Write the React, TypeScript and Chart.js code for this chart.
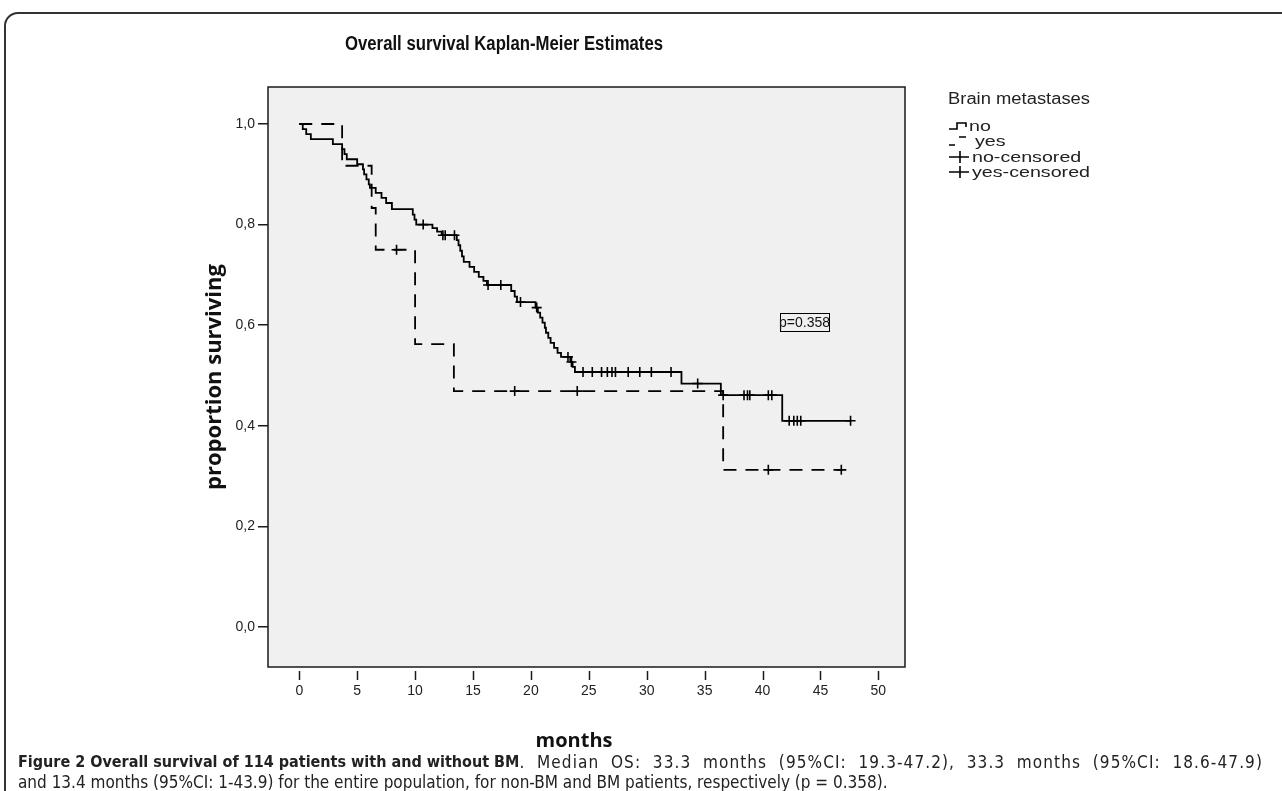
import React, { useEffect, useRef } from 'react';
import { Chart, registerables } from 'chart.js';

Chart.register(...registerables);

// ---------- data ----------
const chartTitle = 'Overall survival Kaplan-Meier Estimates';
const xAxisTitle = 'months';
const yAxisTitle = 'proportion surviving';
const xTicks = [0, 5, 10, 15, 20, 25, 30, 35, 40, 45, 50];
const yTicks = [0, 0.2, 0.4, 0.6, 0.8, 1.0];
const yTickLabels = ['0,0', '0,2', '0,4', '0,6', '0,8', '1,0'];
const legendTitle = 'Brain metastases';
const legendLabels = ['no', 'yes', 'no-censored', 'yes-censored'];
const pValueText = 'p=0.358';

// "no" group: step times (months) and survival after the step
const noEventMonths = [0, 0.3, 0.6, 1.0, 2.9, 3.7, 3.9, 4.1, 5.0, 5.5, 5.6, 5.8, 6.0, 6.1, 6.6, 7.1, 7.5, 8.0, 9.8, 9.95, 10.1, 11.5, 11.9, 12.3, 13.6, 13.75, 13.9, 14.05, 14.2, 14.7, 15.1, 15.5, 15.9, 16.2, 18.3, 18.6, 18.8, 20.4, 20.6, 20.8, 21.0, 21.2, 21.3, 21.5, 21.7, 22.0, 22.3, 22.6, 23.4, 23.6, 23.8, 33.0, 36.4, 41.7, 47.6];
const noSurvival = [1.0, 0.99, 0.98, 0.97, 0.96, 0.95, 0.94, 0.93, 0.92, 0.91, 0.90, 0.89, 0.88, 0.873, 0.863, 0.853, 0.843, 0.831, 0.82, 0.81, 0.80, 0.793, 0.786, 0.779, 0.769, 0.759, 0.748, 0.737, 0.726, 0.716, 0.706, 0.696, 0.688, 0.68, 0.668, 0.657, 0.646, 0.635, 0.625, 0.615, 0.605, 0.595, 0.585, 0.575, 0.565, 0.555, 0.545, 0.537, 0.527, 0.517, 0.507, 0.484, 0.461, 0.41, 0.41];
const noCensorMonths = [10.7, 12.4, 12.6, 13.4, 16.3, 17.4, 19.1, 20.5, 23.2, 23.5, 24.5, 25.3, 26.1, 26.6, 27.0, 27.3, 28.4, 29.4, 30.4, 32.1, 34.4, 36.6, 38.4, 38.7, 38.9, 40.5, 40.8, 42.3, 42.7, 43.0, 43.3, 47.6];

// "yes" group
const yesEventMonths = [0, 3.7, 6.25, 6.6, 10.0, 13.35, 36.6, 46.9];
const yesSurvival = [1.0, 0.917, 0.833, 0.75, 0.5625, 0.469, 0.3125, 0.3125];
const yesCensorMonths = [8.4, 18.6, 24.0, 40.5, 46.8];

// ---------- helpers ----------
function survivalAt(times: number[], surv: number[], t: number) {
  let s = surv[0];
  for (let i = 0; i < times.length; i++) if (times[i] <= t) s = surv[i];
  return s;
}
const toPts = (xs: number[], ys: number[]) => xs.map((x, i) => ({ x, y: ys[i] }));
const censorPts = (c: number[], times: number[], surv: number[]) =>
  c.map((x) => ({ x, y: survivalAt(times, surv, x) }));

const FONT = '"Liberation Sans", Arial, sans-serif';
const COND = '"DejaVu Sans Condensed", "Liberation Sans", sans-serif';
const OPEN = '"Open Sans", sans-serif';

// draw text squeezed/stretched horizontally to a given width
function fitText(ctx: any, text: string, x: number, y: number, width: number, align: 'left' | 'center') {
  const w = ctx.measureText(text).width;
  const k = width / w;
  ctx.save();
  ctx.translate(x, y);
  ctx.scale(k, 1);
  ctx.textAlign = align;
  ctx.fillText(text, 0, 0);
  ctx.restore();
}

const decorPlugin = {
  id: 'decor',
  beforeDraw(chart: any) {
    const { ctx, chartArea: a } = chart;
    ctx.save();
    ctx.fillStyle = '#f0f0f0';
    ctx.fillRect(a.left, a.top, a.right - a.left, a.bottom - a.top);
    ctx.restore();
  },
  afterDraw(chart: any) {
    const { ctx, chartArea: a, scales } = chart;
    ctx.save();
    ctx.strokeStyle = '#1a1a1a';
    ctx.lineWidth = 1.5;
    ctx.strokeRect(a.left, a.top, a.right - a.left, a.bottom - a.top);

    // detached x tick marks
    const xs = scales.x;
    xs.ticks.forEach((t: any) => {
      const px = Math.round(xs.getPixelForValue(t.value)) + 0.5;
      ctx.beginPath();
      ctx.moveTo(px, a.bottom + 4);
      ctx.lineTo(px, a.bottom + 13);
      ctx.stroke();
    });

    ctx.textBaseline = 'middle';
    // title
    ctx.fillStyle = '#111';
    ctx.font = `bold 20px ${FONT}`;
    fitText(ctx, chartTitle, 504, 44, 318, 'center');

    // x axis title
    ctx.font = `bold 20px ${OPEN}`;
    ctx.textAlign = 'center';
    ctx.fillText(xAxisTitle, 574, 741);

    // p-value box
    const ys = scales.y;
    const bx = Math.round(xs.getPixelForValue(41.5));
    const by = ys.getPixelForValue(0.606);
    ctx.font = `14px ${FONT}`;
    ctx.textAlign = 'left';
    const tw = ctx.measureText(pValueText).width;
    ctx.lineWidth = 1;
    ctx.strokeStyle = '#000';
    ctx.strokeRect(bx + 0.5, Math.round(by - 9) + 0.5, Math.round(tw - 2), 18);
    ctx.fillStyle = '#111';
    ctx.fillText(pValueText, bx - 1, by + 0.5);

    // legend
    const lx = 949;
    ctx.font = `16px ${FONT}`;
    ctx.fillStyle = '#222';
    fitText(ctx, legendTitle, 948, 100, 142, 'left');
    const rows = [126, 141, 157, 172];
    ctx.font = `15px ${FONT}`;
    const kItem = 118 / ctx.measureText(legendLabels[3]).width;
    ctx.strokeStyle = '#000';
    ctx.lineWidth = 1.6;
    rows.forEach((ry, i) => {
      ctx.beginPath();
      if (i === 0) {
        ctx.moveTo(lx, ry + 3);
        ctx.lineTo(lx + 8, ry + 3);
        ctx.lineTo(lx + 8, ry - 3);
        ctx.lineTo(lx + 17, ry - 3);
        ctx.lineTo(lx + 17, ry + 1);
      } else if (i === 1) {
        ctx.moveTo(lx, ry + 4);
        ctx.lineTo(lx + 6, ry + 4);
        ctx.moveTo(lx + 10, ry - 4);
        ctx.lineTo(lx + 17, ry - 4);
      } else {
        ctx.moveTo(lx, ry);
        ctx.lineTo(lx + 20, ry);
        ctx.moveTo(lx + 11, ry - 6);
        ctx.lineTo(lx + 11, ry + 6);
      }
      ctx.stroke();
      const w = ctx.measureText(legendLabels[i]).width * kItem;
      fitText(ctx, legendLabels[i], i === 0 ? 969 : i === 1 ? 975 : 972, ry + 1, w, 'left');
    });
    ctx.restore();
  },
};

export default function App() {
  const ref = useRef<HTMLCanvasElement | null>(null);

  useEffect(() => {
    if (!ref.current) return;
    const chart = new Chart(ref.current, {
      type: 'line',
      data: {
        datasets: [
          {
            label: 'no',
            data: toPts(noEventMonths, noSurvival),
            borderColor: '#000',
            borderWidth: 1.8,
            stepped: 'before',
            pointRadius: 0,
            fill: false,
          },
          {
            label: 'yes',
            data: toPts(yesEventMonths, yesSurvival),
            borderColor: '#000',
            borderWidth: 1.8,
            borderDash: [13, 9],
            stepped: 'before',
            pointRadius: 0,
            fill: false,
          },
          {
            label: 'no-censored',
            data: censorPts(noCensorMonths, noEventMonths, noSurvival),
            showLine: false,
            pointStyle: 'cross',
            pointRadius: 5,
            pointBorderWidth: 1.6,
            borderColor: '#000',
          },
          {
            label: 'yes-censored',
            data: censorPts(yesCensorMonths, yesEventMonths, yesSurvival),
            showLine: false,
            pointStyle: 'cross',
            pointRadius: 5,
            pointBorderWidth: 1.6,
            borderColor: '#000',
          },
        ],
      } as any,
      options: {
        animation: false,
        responsive: false,
        layout: { padding: { left: 202, right: 377, top: 87, bottom: 0 } },
        plugins: { legend: { display: false }, tooltip: { enabled: false }, title: { display: false } },
        scales: {
          x: {
            type: 'linear',
            min: -2.7,
            max: 52.3,
            afterBuildTicks: (s: any) => {
              s.ticks = xTicks.map((v) => ({ value: v }));
            },
            afterFit: (s: any) => {
              s.height = 93;
            },
            border: { display: false },
            grid: { drawOnChartArea: false, tickLength: 13, tickColor: 'rgba(0,0,0,0)' },
            ticks: {
              padding: 3,
              color: '#222',
              font: { family: FONT, size: 14 },
              callback: (v: any) => String(v),
            },
            title: { display: false },
          },
          y: {
            type: 'linear',
            min: -0.0795,
            max: 1.0736,
            afterBuildTicks: (s: any) => {
              s.ticks = yTicks.map((v) => ({ value: v }));
            },
            afterFit: (s: any) => {
              s.width = 66;
            },
            border: { display: false },
            grid: { drawOnChartArea: false, tickLength: 10, tickColor: '#1a1a1a', lineWidth: 1.5 },
            ticks: {
              padding: 3,
              color: '#222',
              font: { family: FONT, size: 14 },
              callback: (v: any) => {
                const i = yTicks.findIndex((t) => Math.abs(t - v) < 1e-9);
                return i >= 0 ? yTickLabels[i] : '';
              },
            },
            title: {
              display: true,
              text: yAxisTitle,
              color: '#111',
              font: { family: OPEN, size: 22, weight: 'bold' },
              padding: { top: 0, bottom: 0 },
            },
          },
        },
      } as any,
      plugins: [decorPlugin],
    });
    return () => chart.destroy();
  }, []);

  const capStyle: any = {
    position: 'absolute',
    left: 18,
    width: 1245,
    whiteSpace: 'nowrap',
    fontFamily: COND,
    fontSize: 17,
    lineHeight: '20px',
    color: '#222',
  };

  return (
    <div style={{ position: 'fixed', left: 0, top: 0, width: 1282, height: 791, overflow: 'hidden', background: '#fff' }}>
      <div
        style={{
          position: 'absolute',
          left: 4,
          top: 12,
          width: 1310,
          height: 820,
          border: '2px solid #333',
          borderRadius: 14,
          boxSizing: 'border-box',
        }}
      />
      <canvas ref={ref} width={1282} height={760} style={{ position: 'absolute', left: 0, top: 0 }} />
      <div style={{ ...capStyle, top: 752, display: 'flex' }}>
        <b style={{ fontSize: 16, whiteSpace: 'nowrap' }}>Figure 2 Overall survival of 114 patients with and without BM</b>
        <span
          style={{
            flex: 1,
            textAlign: 'justify',
            textAlignLast: 'justify',
            whiteSpace: 'normal',
            letterSpacing: '1.1px',
          }}
        >
          . Median OS: 33.3 months (95%CI: 19.3-47.2), 33.3 months (95%CI: 18.6-47.9)
        </span>
      </div>
      <div style={{ ...capStyle, top: 772 }}>
        and 13.4 months (95%CI: 1-43.9) for the entire population, for non-BM and BM patients, respectively (p = 0.358).
      </div>
    </div>
  );
}
